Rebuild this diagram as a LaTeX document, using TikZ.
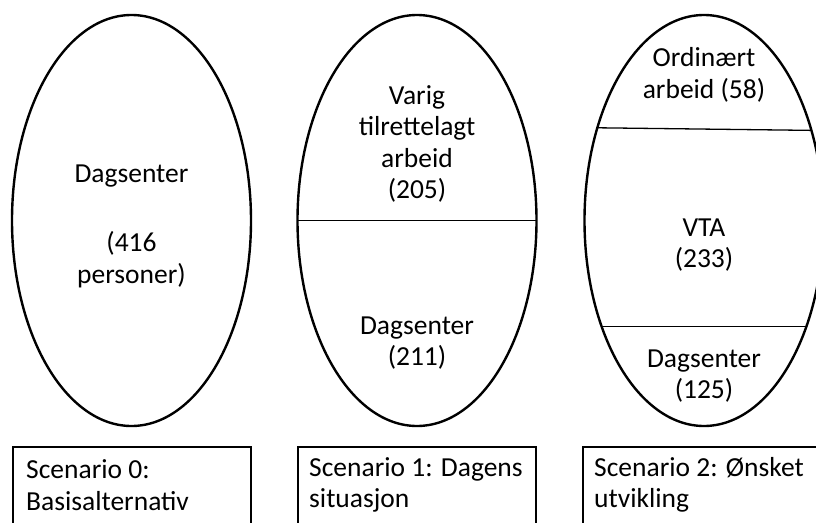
\documentclass[tikz,border=0pt]{standalone}
\usepackage{fontspec}
\setmainfont{Carlito}
\usetikzlibrary{shapes.geometric}
\tikzset{
  oval/.style={draw, ellipse, line width=2.4pt, outer sep=0pt, inner sep=0pt,
    minimum width=239pt, minimum height=411pt},
  divider/.style={line width=1.3pt},
  lbl/.style={inner sep=0pt, align=center, font=\fontsize{27.5}{31.5}\selectfont},
  scbox/.style={draw, line width=2.4pt},
  sclbl/.style={inner sep=0pt, align=left, anchor=west, font=\fontsize{27.5}{31.5}\selectfont}
}
\begin{document}
\begin{tikzpicture}[x=1pt,y=-1pt]
\useasboundingbox (0,0) rectangle (816,522);
\clip (0,0) rectangle (816,522);
% ellipses
\node[oval] (e1) at (131.5,220.5) {};
\node[oval] (e2) at (417,220.5) {};
\node[oval] (e3) at (704,220.5) {};
% dividers
\draw[divider] (e2.180) -- (e2.0);
\draw[divider] (e3.139.08) -- (e3.40.92);
\draw[divider] (e3.226.56) -- (e3.-46.56);
% texts
\node[lbl] (t1) at (131.5,226.5) {Dagsenter\\[6pt]\mbox{}\\(416\\personer)};
\node[lbl] (t2a) at (417,144) {Varig\\tilrettelagt\\arbeid\\(205)};
\node[lbl] (t2b) at (417,343) {Dagsenter\\(211)};
\node[lbl] (t3a) at (704,75) {Ordinært\\arbeid (58)};
\node[lbl] (t3b) at (704,245) {VTA\\(233)};
\node[lbl] (t3c) at (704,376) {Dagsenter\\(125)};
% scenario boxes
\draw[scbox] (13,540) -- (13,447) -- (251,447) -- (251,540);
\draw[scbox] (298,540) -- (298,447) -- (536,447) -- (536,540);
\draw[scbox] (583,540) -- (583,447) -- (830,447) -- (830,540);
\node[sclbl] (s1) at (26,485) {Scenario 0:\\Basisalternativ};
\node[sclbl] (s2) at (309,485) {Scenario 1: Dagens\\situasjon};
\node[sclbl] (s3) at (594,485) {Scenario 2: Ønsket\\utvikling};
\end{tikzpicture}
\end{document}
